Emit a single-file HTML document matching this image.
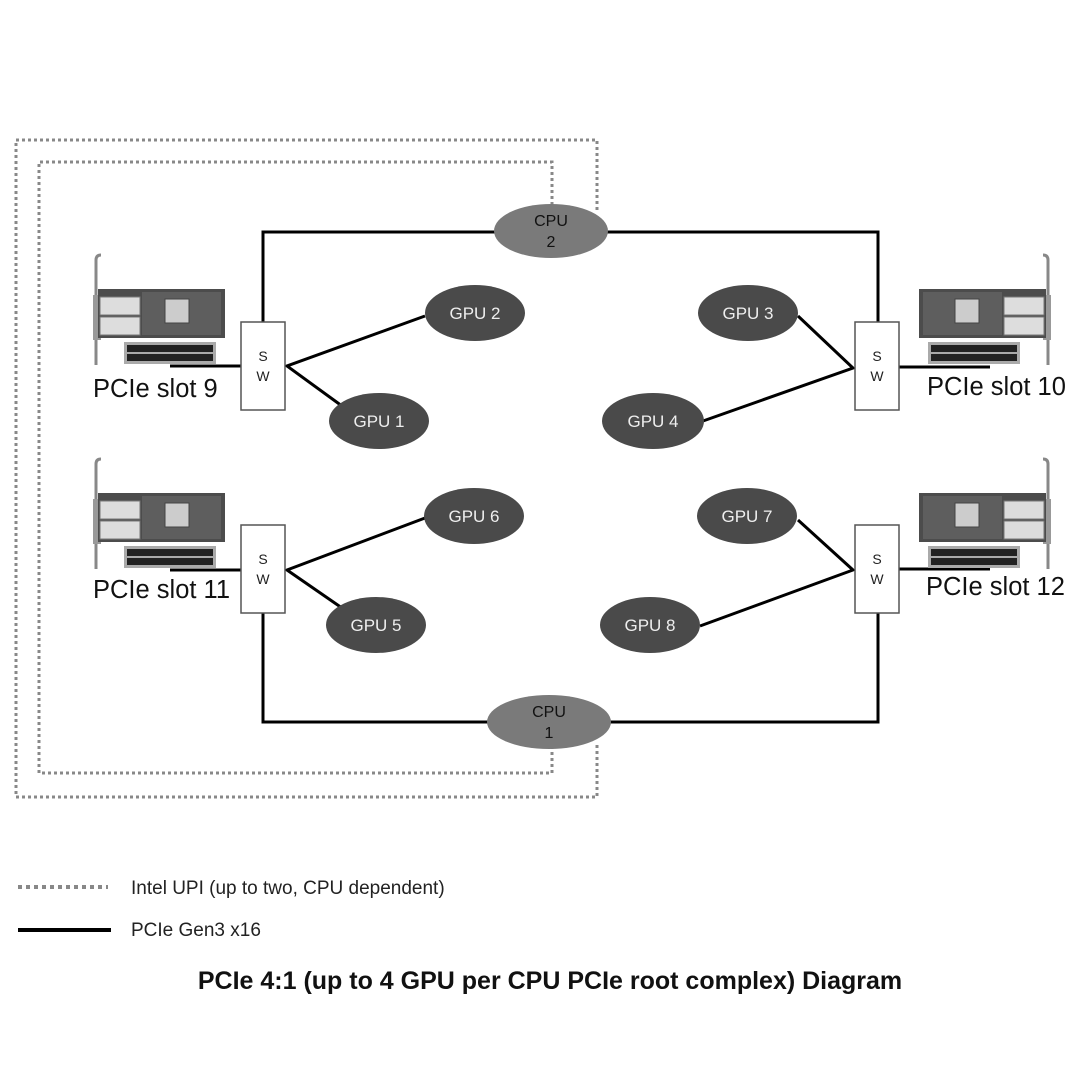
<!DOCTYPE html>
<html><head><style>
body{margin:0;background:#fff}
svg text{font-family:"Liberation Sans",Arial,sans-serif}
</style></head><body>
<svg width="1080" height="1080" viewBox="0 0 1080 1080" xmlns="http://www.w3.org/2000/svg">
<defs>
<g id="card">
  <path d="M96 365 L96 260 Q96 255 101 255" stroke="#888" stroke-width="3" fill="none"/>
  <rect x="93" y="295" width="8" height="45" fill="#999"/>
  <rect x="98" y="289" width="127" height="49" fill="#4c4c4c"/>
  <rect x="142" y="292" width="79" height="43" fill="#5e5e5e"/>
  <rect x="100" y="297" width="40" height="18" fill="#ddd" stroke="#777"/>
  <rect x="100" y="317" width="40" height="18" fill="#ddd" stroke="#777"/>
  <rect x="165" y="299" width="24" height="24" fill="#ccc" stroke="#444"/>
  <rect x="124" y="342" width="92" height="22" fill="#aaa"/>
  <rect x="127" y="345" width="86" height="7" fill="#222"/>
  <rect x="127" y="354" width="86" height="7" fill="#222"/>
</g>
</defs>
<g stroke="#888" stroke-width="3" stroke-dasharray="3 3" fill="none">
  <path d="M597 210 L597 140 L16 140 L16 797 L597 797 L597 744"/>
  <path d="M552 205 L552 162 L39 162 L39 773 L552 773 L552 748"/>
</g>
<g stroke="#000" stroke-width="3" fill="none">
  <path d="M263 322 L263 232 L878 232 L878 322"/>
  <path d="M263 613 L263 722 L878 722 L878 613"/>
  <path d="M425 316 L287 366 L342 406"/>
  <path d="M798 316 L853 368 L703 421"/>
  <path d="M425 518 L287 570 L342 608"/>
  <path d="M798 520 L853 570 L700 626"/>
  <path d="M170 366 L241 366"/>
  <path d="M899 367 L990 367"/>
  <path d="M170 570 L241 570"/>
  <path d="M899 569 L990 569"/>
</g>
<use href="#card"/>
<use href="#card" transform="translate(0,204)"/>
<use href="#card" transform="translate(1144,0) scale(-1,1)"/>
<use href="#card" transform="translate(1144,204) scale(-1,1)"/>
<g fill="#fff" stroke="#555" stroke-width="1.5">
  <rect x="241" y="322" width="44" height="88"/>
  <rect x="855" y="322" width="44" height="88"/>
  <rect x="241" y="525" width="44" height="88"/>
  <rect x="855" y="525" width="44" height="88"/>
</g>
<g font-size="14" text-anchor="middle" fill="#222">
  <text x="263" y="361">S</text><text x="263" y="381">W</text>
  <text x="877" y="361">S</text><text x="877" y="381">W</text>
  <text x="263" y="564">S</text><text x="263" y="584">W</text>
  <text x="877" y="564">S</text><text x="877" y="584">W</text>
</g>
<ellipse cx="551" cy="231" rx="57" ry="27" fill="#7a7a7a"/>
<ellipse cx="549" cy="722" rx="62" ry="27" fill="#7a7a7a"/>
<g font-size="16" text-anchor="middle" fill="#111">
  <text x="551" y="226">CPU</text><text x="551" y="247">2</text>
  <text x="549" y="717">CPU</text><text x="549" y="738">1</text>
</g>
<g fill="#4a4a4a">
  <ellipse cx="475" cy="313" rx="50" ry="28"/>
  <ellipse cx="379" cy="421" rx="50" ry="28"/>
  <ellipse cx="748" cy="313" rx="50" ry="28"/>
  <ellipse cx="653" cy="421" rx="51" ry="28"/>
  <ellipse cx="474" cy="516" rx="50" ry="28"/>
  <ellipse cx="376" cy="625" rx="50" ry="28"/>
  <ellipse cx="747" cy="516" rx="50" ry="28"/>
  <ellipse cx="650" cy="625" rx="50" ry="28"/>
</g>
<g font-size="17" text-anchor="middle" fill="#eee">
  <text x="475" y="319">GPU 2</text>
  <text x="379" y="427">GPU 1</text>
  <text x="748" y="319">GPU 3</text>
  <text x="653" y="427">GPU 4</text>
  <text x="474" y="522">GPU 6</text>
  <text x="376" y="631">GPU 5</text>
  <text x="747" y="522">GPU 7</text>
  <text x="650" y="631">GPU 8</text>
</g>
<g font-size="25.5" fill="#111">
  <text x="93" y="397">PCIe slot 9</text>
  <text x="927" y="395">PCIe slot 10</text>
  <text x="93" y="598">PCIe slot 11</text>
  <text x="926" y="595">PCIe slot 12</text>
</g>
<line x1="18" y1="887" x2="108" y2="887" stroke="#888" stroke-width="4" stroke-dasharray="4 4"/>
<line x1="18" y1="930" x2="111" y2="930" stroke="#000" stroke-width="4"/>
<g font-size="19" fill="#222">
  <text x="131" y="894">Intel UPI (up to two, CPU dependent)</text>
  <text x="131" y="936">PCIe Gen3 x16</text>
</g>
<text x="550" y="989" font-size="25" font-weight="bold" text-anchor="middle" fill="#111">PCIe 4:1 (up to 4 GPU per CPU PCIe root complex) Diagram</text>
</svg>
</body></html>
